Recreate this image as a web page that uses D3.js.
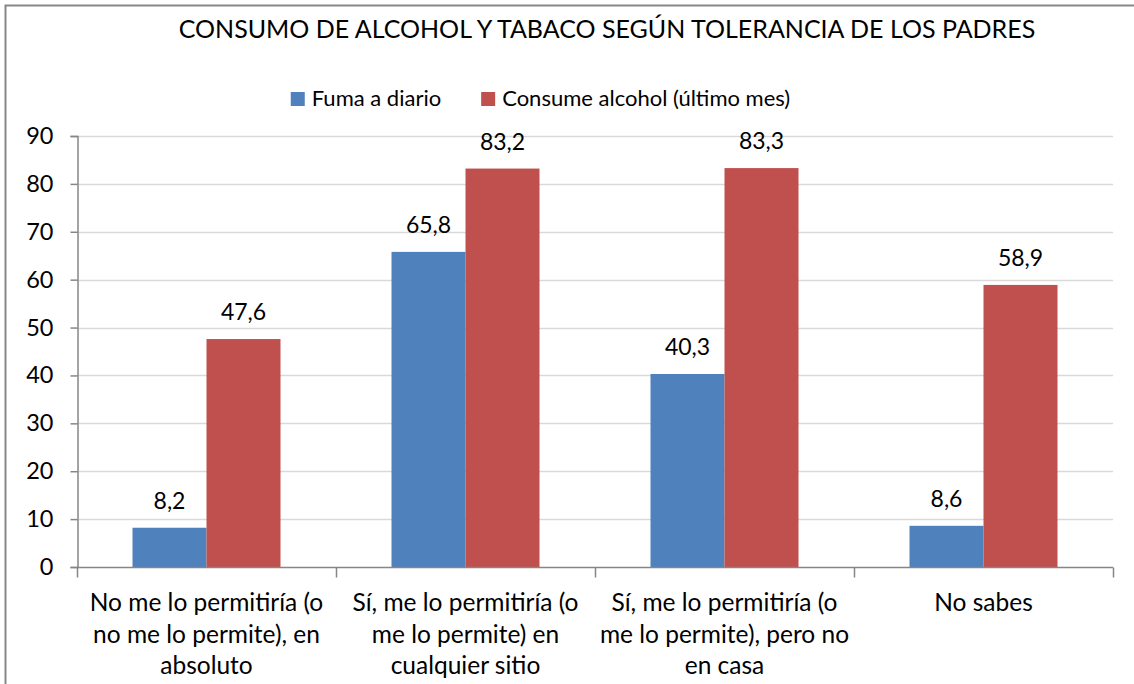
<!DOCTYPE html>
<html>
<head>
<meta charset="utf-8">
<script src="https://cdn.jsdelivr.net/npm/d3@7"></script>
<style>
  html, body { margin: 0; padding: 0; background: #fff; }
  svg { display: block; }
  text { font-family: Lato, "Open Sans", sans-serif; fill: #000; }
</style>
</head>
<body>
<svg id="chart" width="1134" height="684"></svg>
<script>
const title = "CONSUMO DE ALCOHOL Y TABACO SEGÚN TOLERANCIA DE LOS PADRES";
const categories = [
  ["No me lo permitiría (o", "no me lo permite), en", "absoluto"],
  ["Sí, me lo permitiría (o", "me lo permite) en", "cualquier sitio"],
  ["Sí, me lo permitiría (o", "me lo permite), pero no", "en casa"],
  ["No sabes"]
];
const seriesNames = ["Fuma a diario", "Consume alcohol (último mes)"];
const fumaValues = [8.2, 65.8, 40.3, 8.6];
const alcoholValues = [47.6, 83.2, 83.3, 58.9];
const yTicks = [0, 10, 20, 30, 40, 50, 60, 70, 80, 90];
const colors = ["#4F81BD", "#C0504D"];

const svg = d3.select("#chart");
const plot = { left: 77, right: 1113, top: 136, bottom: 567 };
const fs = 23;

// outer border
svg.append("rect")
  .attr("x", 5.5).attr("y", 5.5).attr("width", 1140).attr("height", 700)
  .attr("fill", "#fff").attr("stroke", "#878787").attr("stroke-width", 2);

const catIdx = categories.map((c, i) => i);
const x0 = d3.scaleBand().domain(catIdx).range([plot.left, plot.right]).padding(0);
const x1 = d3.scaleBand().domain([0, 1]).range([0, x0.bandwidth()]).paddingInner(0).paddingOuter(0.75);
const y = d3.scaleLinear().domain([0, 90]).range([plot.bottom, plot.top]);

// gridlines
svg.append("g").selectAll("line").data(yTicks.filter(t => t > 0)).join("line")
  .attr("x1", plot.left).attr("x2", plot.right)
  .attr("y1", d => Math.round(y(d)) + 0.5).attr("y2", d => Math.round(y(d)) + 0.5)
  .attr("stroke", "#d9d9d9").attr("stroke-width", 1.5);

// bars
const data = catIdx.map(i => [fumaValues[i], alcoholValues[i]]);
const groups = svg.append("g").selectAll("g").data(data).join("g")
  .attr("transform", (d, i) => `translate(${x0(i)},0)`);
groups.selectAll("rect").data(d => d.map((v, s) => ({ v, s }))).join("rect")
  .attr("x", d => x1(d.s)).attr("width", x1.bandwidth())
  .attr("y", d => y(d.v)).attr("height", d => y(0) - y(d.v))
  .attr("fill", d => colors[d.s]);
groups.selectAll("text").data(d => d.map((v, s) => ({ v, s }))).join("text")
  .attr("x", d => x1(d.s) + x1.bandwidth() / 2)
  .attr("y", d => y(d.v) - 19)
  .attr("text-anchor", "middle").attr("font-size", fs)
  .text(d => d.v.toFixed(1).replace(".", ","));

// y axis
const yAxis = d3.axisLeft(y).tickValues(yTicks).tickSize(7).tickPadding(17).tickFormat(d => d);
const gy = svg.append("g").attr("transform", `translate(${plot.left + 0.5},0)`).call(yAxis);
gy.select(".domain").attr("stroke", "#868686").attr("stroke-width", 1.5);
gy.selectAll(".tick line").attr("stroke", "#868686").attr("stroke-width", 1.5);
gy.selectAll(".tick text").attr("font-size", 23.5).attr("font-family", "Lato").attr("fill", "#000");

// x axis
const xb = d3.scaleLinear().domain([0, categories.length]).range([plot.left, plot.right]);
const xAxis = d3.axisBottom(xb).tickValues(d3.range(categories.length + 1)).tickSize(10).tickFormat("");
const gx = svg.append("g").attr("transform", `translate(0,${plot.bottom + 0.5})`).call(xAxis);
gx.select(".domain").attr("stroke", "#868686").attr("stroke-width", 1.5).attr("d", `M${plot.left},0H${plot.right}`);
gx.selectAll(".tick line").attr("stroke", "#868686").attr("stroke-width", 1.5);

// x labels
const xl = svg.append("g").selectAll("text").data(categories).join("text")
  .attr("text-anchor", "middle").attr("font-size", 24.5)
  .attr("x", (d, i) => x0(i) + x0.bandwidth() / 2)
  .attr("y", 611);
xl.selectAll("tspan").data(d => d).join("tspan")
  .attr("x", function() { return this.parentNode.getAttribute("x"); })
  .attr("dy", (d, i) => i === 0 ? 0 : 31.5)
  .text(d => d);

// title
svg.append("text").attr("x", 607).attr("y", 38).attr("text-anchor", "middle")
  .attr("font-size", 25).text(title);

// legend
const leg = svg.append("g");
const items = leg.selectAll("g").data(seriesNames).join("g");
items.append("rect").attr("width", 14).attr("height", 14).attr("y", 92)
  .attr("fill", (d, i) => colors[i]);
items.append("text").attr("x", 21).attr("y", 106).attr("font-size", 22).text(d => d);
const widths = [];
items.each(function() { widths.push(21 + this.querySelector("text").getComputedTextLength()); });
const gap = 40;
const total = d3.sum(widths) + gap * (widths.length - 1);
let start = 540.5 - total / 2;
items.attr("transform", (d, i) => {
  const t = `translate(${start},0)`;
  start += widths[i] + gap;
  return t;
});
</script>
</body>
</html>
